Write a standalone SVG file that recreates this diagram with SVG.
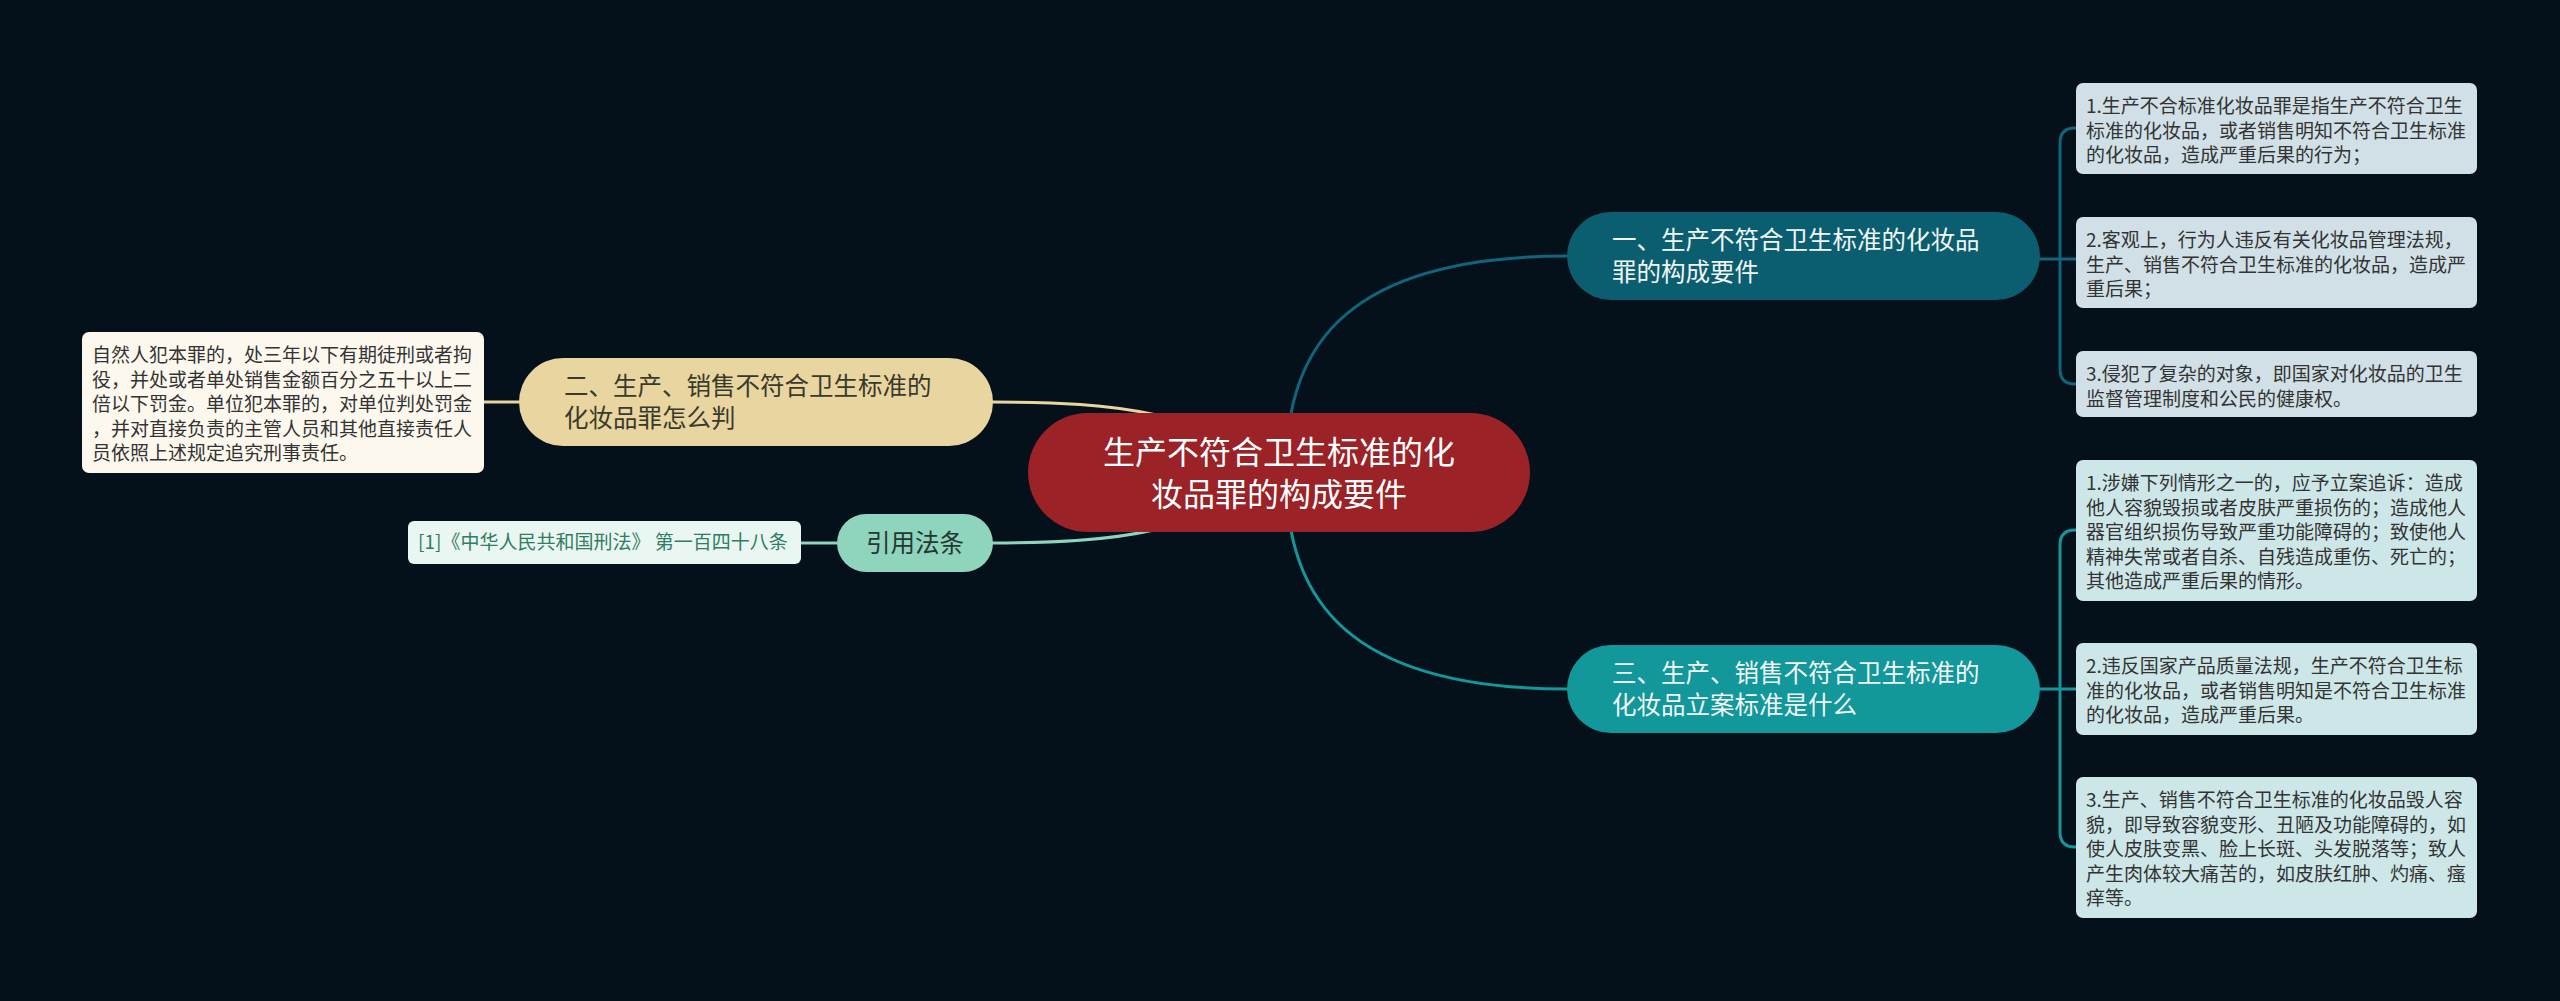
<svg xmlns="http://www.w3.org/2000/svg" width="2560" height="1001" viewBox="0 0 2560 1001">
<style>
text{font-family:"Noto Sans CJK SC","Noto Sans",sans-serif;}
.leaf{font-size:19px;fill:#333333;}
.c{fill:none;stroke-width:3;stroke-linecap:round;}
.t1{font-size:24.5px;fill:#f2f6f7;}
</style>
<rect x="0" y="0" width="2560" height="1001" fill="#04111a"/>
<g id="connectors">
<path class="c" stroke="#e8d5a0" d="M993,402 C1120,402 1200,412 1279,472"/>
<path class="c" stroke="#8fd4bd" d="M993,543 C1120,543 1200,532 1279,472"/>
<path class="c" stroke="#e8d5a0" d="M484,402 H519"/>
<path class="c" stroke="#8fd4bd" d="M801,543 H837"/>
<path class="c" stroke="#10657a" d="M1286,472 C1286,360 1330,256 1567,256"/>
<path class="c" stroke="#13979b" d="M1286,472 C1286,584 1330,689 1567,689"/>
<path class="c" stroke="#10657a" d="M2040,259 H2076 M2060,259 V143 Q2060,128 2075,128 H2076 M2060,259 V369 Q2060,384 2075,384 H2076"/>
<path class="c" stroke="#13979b" d="M2040,689 H2076 M2060,689 V545 Q2060,530 2075,530 H2076 M2060,689 V832 Q2060,847 2075,847 H2076"/>
</g>
<g id="center">
<rect x="1028" y="413" width="502" height="119" rx="59.5" fill="#9b2226"/>
<text x="1279" y="463.5" text-anchor="middle" font-size="32" fill="#ffffff">生产不符合卫生标准的化</text>
<text x="1279" y="505.5" text-anchor="middle" font-size="32" fill="#ffffff">妆品罪的构成要件</text>
</g>
<g id="node1">
<rect x="1567" y="212" width="473" height="88" rx="44" fill="#0a5e6f"/>
<text class="t1" x="1612" y="249">一、生产不符合卫生标准的化妆品</text>
<text class="t1" x="1612" y="281">罪的构成要件</text>
</g>
<g id="node3">
<rect x="1567" y="645" width="473" height="88" rx="44" fill="#12979b"/>
<text class="t1" x="1612" y="682">三、生产、销售不符合卫生标准的</text>
<text class="t1" x="1612" y="714">化妆品立案标准是什么</text>
</g>
<g id="node2">
<rect x="519" y="358" width="474" height="88" rx="44" fill="#e8d5a0"/>
<text x="564" y="395" font-size="24.5" fill="#3a3a2c">二、生产、销售不符合卫生标准的</text>
<text x="564" y="427" font-size="24.5" fill="#3a3a2c">化妆品罪怎么判</text>
</g>
<g id="node-cite">
<rect x="837" y="514" width="156" height="58" rx="29" fill="#8fd4bd"/>
<text x="915" y="552" text-anchor="middle" font-size="24.5" fill="#243833">引用法条</text>
</g>
<g id="leaf-cite">
<rect x="408" y="521" width="393" height="43" rx="6" fill="#eaf6f1"/>
<text x="418" y="549" font-size="19" fill="#2f7d63">[1]《中华人民共和国刑法》 第一百四十八条</text>
</g>
<g id="leaf-left">
<rect x="82" y="332" width="402" height="141" rx="7" fill="#fcf8ee"/>
<text class="leaf" x="92" y="362">自然人犯本罪的，处三年以下有期徒刑或者拘</text>
<text class="leaf" x="92" y="386.5">役，并处或者单处销售金额百分之五十以上二</text>
<text class="leaf" x="92" y="411">倍以下罚金。单位犯本罪的，对单位判处罚金</text>
<text class="leaf" x="92" y="435.5">，并对直接负责的主管人员和其他直接责任人</text>
<text class="leaf" x="92" y="460">员依照上述规定追究刑事责任。</text>
</g>
<g id="leaf-1-1">
<rect x="2076" y="83" width="401" height="91" rx="7" fill="#d0e0e6"/>
<text class="leaf" x="2086" y="113">1.生产不合标准化妆品罪是指生产不符合卫生</text>
<text class="leaf" x="2086" y="137.5">标准的化妆品，或者销售明知不符合卫生标准</text>
<text class="leaf" x="2086" y="162">的化妆品，造成严重后果的行为；</text>
</g>
<g id="leaf-1-2">
<rect x="2076" y="217" width="401" height="91" rx="7" fill="#d0e0e6"/>
<text class="leaf" x="2086" y="247">2.客观上，行为人违反有关化妆品管理法规，</text>
<text class="leaf" x="2086" y="271.5">生产、销售不符合卫生标准的化妆品，造成严</text>
<text class="leaf" x="2086" y="296">重后果；</text>
</g>
<g id="leaf-1-3">
<rect x="2076" y="351" width="401" height="66" rx="7" fill="#d0e0e6"/>
<text class="leaf" x="2086" y="381">3.侵犯了复杂的对象，即国家对化妆品的卫生</text>
<text class="leaf" x="2086" y="405.5">监督管理制度和公民的健康权。</text>
</g>
<g id="leaf-3-1">
<rect x="2076" y="460" width="401" height="141" rx="7" fill="#cde7e8"/>
<text class="leaf" x="2086" y="490">1.涉嫌下列情形之一的，应予立案追诉：造成</text>
<text class="leaf" x="2086" y="514.5">他人容貌毁损或者皮肤严重损伤的；造成他人</text>
<text class="leaf" x="2086" y="539">器官组织损伤导致严重功能障碍的；致使他人</text>
<text class="leaf" x="2086" y="563.5">精神失常或者自杀、自残造成重伤、死亡的；</text>
<text class="leaf" x="2086" y="588">其他造成严重后果的情形。</text>
</g>
<g id="leaf-3-2">
<rect x="2076" y="643" width="401" height="92" rx="7" fill="#cde7e8"/>
<text class="leaf" x="2086" y="673">2.违反国家产品质量法规，生产不符合卫生标</text>
<text class="leaf" x="2086" y="697.5">准的化妆品，或者销售明知是不符合卫生标准</text>
<text class="leaf" x="2086" y="722">的化妆品，造成严重后果。</text>
</g>
<g id="leaf-3-3">
<rect x="2076" y="777" width="401" height="141" rx="7" fill="#cde7e8"/>
<text class="leaf" x="2086" y="807">3.生产、销售不符合卫生标准的化妆品毁人容</text>
<text class="leaf" x="2086" y="831.5">貌，即导致容貌变形、丑陋及功能障碍的，如</text>
<text class="leaf" x="2086" y="856">使人皮肤变黑、脸上长斑、头发脱落等；致人</text>
<text class="leaf" x="2086" y="880.5">产生肉体较大痛苦的，如皮肤红肿、灼痛、瘙</text>
<text class="leaf" x="2086" y="905">痒等。</text>
</g>
</svg>
